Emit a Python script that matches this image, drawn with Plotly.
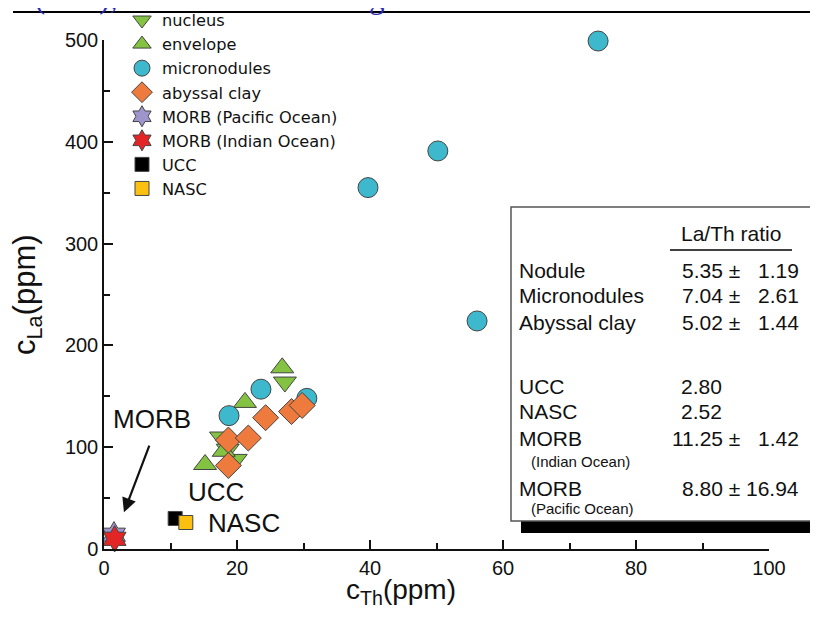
import plotly.graph_objects as go

# ---- data ----
nucleus_th = [17.6, 18.6, 19.8, 27.2]
nucleus_la = [110, 98, 88, 164]
envelope_th = [15.2, 18.0, 21.2, 26.8]
envelope_la = [83, 96, 144, 178]
micro_th = [18.8, 23.6, 30.5, 39.7, 50.2, 56.1, 74.3]
micro_la = [131, 157, 148, 355, 391, 224, 499]
clay_th = [18.7, 18.7, 21.7, 24.3, 28.2, 29.8]
clay_la = [82, 107, 109, 129, 135, 141]
morb_pac_th = [1.5]
morb_pac_la = [14]
morb_ind_th = [1.6]
morb_ind_la = [10]
ucc_th = [10.7]
ucc_la = [30]
nasc_th = [12.3]
nasc_la = [26]

x_ticks = [0, 20, 40, 60, 80, 100]
y_ticks = [0, 100, 200, 300, 400, 500]

table_rows = ["Nodule", "Micronodules", "Abyssal clay", "UCC", "NASC", "MORB", "MORB"]
table_sub = ["", "", "", "", "", "(Indian Ocean)", "(Pacific Ocean)"]
table_mean = ["5.35 \u00b1", "7.04 \u00b1", "5.02 \u00b1", "2.80", "2.52", "11.25 \u00b1", "8.80 \u00b1"]
table_sd = ["1.19", "2.61", "1.44", "", "", "1.42", "16.94"]

FONT = "Liberation Sans, Arial, sans-serif"
INK = "#111111"
EDGE = dict(color="#444444", width=1)

fig = go.Figure()

def add(name, x, y, symbol, color, size):
    fig.add_trace(go.Scatter(
        x=x, y=y, mode="markers", name=name, cliponaxis=False,
        marker=dict(symbol=symbol, color=color, size=size, line=EDGE)))

add("nucleus", nucleus_th, nucleus_la, "triangle-down", "#84c341", 20)
add("envelope", envelope_th, envelope_la, "triangle-up", "#84c341", 20)
add("micronodules", micro_th, micro_la, "circle", "#3db8cc", 20)
add("abyssal clay", clay_th, clay_la, "diamond", "#ee7a3e", 20)
add("MORB (Pacific Ocean)", morb_pac_th, morb_pac_la, "hexagram", "#9d95cc", 20)
add("MORB (Indian Ocean)", morb_ind_th, morb_ind_la, "hexagram", "#e32526", 20)
add("UCC", ucc_th, ucc_la, "square", "#000000", 14)
add("NASC", nasc_th, nasc_la, "square", "#fcc010", 14)

# the page has an 8px body margin; keep the figure small enough to avoid scrollbars
OFF = 8
FW, FH = 818 - 2 * OFF, 618 - 2 * OFF
# plot area in window pixels
L, R, T, B = 104, 769, 40, 549

def px(xp):
    return (xp - L) / (R - L)

def py(yp):
    return (B - yp) / (B - T)

shapes = []
annotations = []

def note(text, x, y, size, xanchor="left", color=INK, family=FONT, angle=0):
    annotations.append(dict(text=text, xref="paper", yref="paper", x=px(x), y=py(y),
                            xanchor=xanchor, yanchor="middle", showarrow=False, textangle=angle,
                            font=dict(family=family, size=size, color=color)))

# top partial text and rule (page cut from a document)
note("53 (2.96), the differences being less marked vis-\u00e0-vis the MORB", -6, -2, 31,
     color="#2a2ab4", family="Liberation Serif, Times New Roman, serif")
shapes.append(dict(type="line", xref="paper", yref="paper", x0=px(13), x1=px(830), y0=py(12), y1=py(12),
                   line=dict(color="black", width=2), layer="above"))

# inset box with shadow
shapes.append(dict(type="rect", xref="paper", yref="paper", x0=px(521), x1=px(840), y0=py(533), y1=py(521),
                   fillcolor="black", line=dict(width=0)))
shapes.append(dict(type="rect", xref="paper", yref="paper", x0=px(511), x1=px(840), y0=py(521), y1=py(207),
                   fillcolor="white", line=dict(color="#555555", width=1.5)))
shapes.append(dict(type="line", xref="paper", yref="paper", x0=px(670), x1=px(792), y0=py(250), y1=py(250),
                   line=dict(color="black", width=1.5)))
note("La/Th ratio", 731, 233, 21, xanchor="center")
row_y = [270, 295, 322, 386, 411, 438, 488]
sub_y = [None, None, None, None, None, 461, 508]
for i, name in enumerate(table_rows):
    note(name, 517, row_y[i], 21)
    m = table_mean[i]
    if m.endswith("\u00b1"):
        note(m, 742, row_y[i], 21, xanchor="right")
    else:
        note(m, 679, row_y[i], 21)
    if table_sd[i]:
        note(table_sd[i], 801, row_y[i], 21, xanchor="right")
    if table_sub[i]:
        note(table_sub[i], 529, sub_y[i], 15)

# axis titles
note("c<sub>Th</sub>(ppm)", 401, 591, 28, xanchor="center")
note("c<sub>La</sub>(ppm)", 27, 295, 31, xanchor="center", angle=-90)

# in-plot labels
annotations.append(dict(text="MORB", x=7.2, y=128, xref="x", yref="y", showarrow=False,
                        font=dict(family=FONT, size=26, color=INK)))
annotations.append(dict(x=3.0, y=36, ax=6.9, ay=103, xref="x", yref="y", axref="x", ayref="y",
                        text="", showarrow=True, arrowhead=2, arrowsize=1.3, arrowwidth=2.2,
                        arrowcolor=INK))
annotations.append(dict(text="UCC", x=16.8, y=56, xref="x", yref="y", showarrow=False,
                        font=dict(family=FONT, size=26, color=INK)))
annotations.append(dict(text="NASC", x=21.1, y=26, xref="x", yref="y", showarrow=False,
                        font=dict(family=FONT, size=26, color=INK)))

axis_common = dict(showgrid=False, zeroline=False, showline=True, linecolor=INK, linewidth=1.5,
                   ticks="inside", ticklen=9, tickwidth=1.5, tickcolor=INK,
                   tickfont=dict(family=FONT, size=20, color=INK))

fig.update_layout(
    width=FW, height=FH, autosize=False,
    margin=dict(l=L - OFF, r=FW - (R - OFF), t=T - OFF, b=FH - (B - OFF), autoexpand=False),
    paper_bgcolor="white", plot_bgcolor="white",
    font=dict(family=FONT, color=INK),
    showlegend=True,
    legend=dict(x=px(122), y=py(3), xanchor="left", yanchor="top", bgcolor="rgba(0,0,0,0)",
                font=dict(family="DejaVu Sans, sans-serif", size=16.2, color=INK),
                tracegroupgap=0),
    shapes=shapes, annotations=annotations,
    xaxis=dict(range=[0, 100], tickvals=x_ticks,
               minor=dict(ticks="inside", dtick=10, ticklen=6, tickwidth=1.5, tickcolor=INK),
               **axis_common),
    yaxis=dict(range=[0, 500], tickvals=y_ticks,
               minor=dict(ticks="inside", dtick=50, ticklen=6, tickwidth=1.5, tickcolor=INK),
               **axis_common),
)

fig.write_html("out.html")
